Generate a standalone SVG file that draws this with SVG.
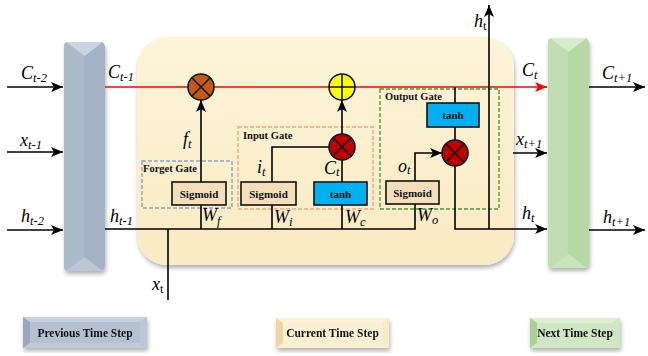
<svg xmlns="http://www.w3.org/2000/svg" width="648" height="356" viewBox="0 0 648 356">
<style>
.ln{fill:none;stroke:#000;stroke-width:1.6}
.red{fill:none;stroke:#ff0000;stroke-width:1.6}
.lbl{font-family:"Liberation Serif",serif;font-style:italic;font-size:18px;fill:#000}
.sub{font-size:12.5px}
.gt{font-family:"Liberation Serif",serif;font-weight:bold;font-size:10.5px;fill:#111}
.bx{font-family:"Liberation Serif",serif;font-weight:bold;font-size:11px;fill:#111;text-anchor:middle}
.sig{fill:#f5dfbb;stroke:#111;stroke-width:1.6}
.tanh{fill:#00b0f0;stroke:#111;stroke-width:1.6}
.op{stroke:#111;stroke-width:1.6}
.lg{font-family:"Liberation Serif",serif;font-weight:bold;font-size:11.5px;fill:#111;text-anchor:middle}
</style>
<defs>
<marker id="ah" markerUnits="userSpaceOnUse" markerWidth="12" markerHeight="10" refX="12" refY="5" orient="auto">
<path d="M0,0 L12,5 L0,10 L3,5 z" fill="#000"/>
</marker>
<marker id="ahr" markerUnits="userSpaceOnUse" markerWidth="12" markerHeight="10" refX="12" refY="5" orient="auto">
<path d="M0,0 L12,5 L0,10 L3,5 z" fill="#ff0000"/>
</marker>
<linearGradient id="cream" x1="0" y1="0" x2="0" y2="1">
<stop offset="0" stop-color="#fdf4d8"/>
<stop offset="1" stop-color="#f9ebc3"/>
</linearGradient>
<filter id="sh" x="-10%" y="-10%" width="120%" height="125%">
<feDropShadow dx="1" dy="3" stdDeviation="2" flood-color="#000" flood-opacity="0.3"/>
</filter>
</defs>

<g id="bar-prev" filter="url(#sh)">
<rect x="64" y="42" width="41" height="229" rx="5" fill="#a4b2c5"/>
<rect x="64" y="42" width="20" height="229" rx="4" fill="#adbacc"/>
<polygon points="66,42 103,42 84.5,56" fill="#cbd5e1"/>
<polygon points="66,271 103,271 84.5,257" fill="#bcc7d5"/>
</g>

<g id="cell" filter="url(#sh)">
<rect x="137" y="37" width="377" height="228" rx="30" fill="url(#cream)"/>
</g>

<g id="bar-next" filter="url(#sh)">
<rect x="548" y="38" width="41" height="230" rx="5" fill="#b5d9a6"/>
<rect x="548" y="38" width="20" height="230" rx="4" fill="#bfdeb1"/>
<polygon points="550,38 587,38 568.5,52" fill="#d6ecca"/>
<polygon points="550,268 587,268 568.5,254" fill="#cae5bd"/>
</g>

<g id="forget-gate">
<rect x="142" y="161" width="90" height="47" fill="none" stroke="#8ea4c4" stroke-width="1.4" stroke-dasharray="4,2"/>
<text class="gt" x="143" y="172">Forget Gate</text>
</g>
<g id="input-gate">
<rect x="238" y="127" width="135" height="82" fill="none" stroke="#f4a582" stroke-width="1.4" stroke-dasharray="4,2"/>
<text class="gt" x="243" y="139">Input Gate</text>
</g>
<g id="output-gate">
<rect x="380" y="89" width="119" height="120" fill="none" stroke="#4a9a3a" stroke-width="1.4" stroke-dasharray="4,2"/>
<text class="gt" x="385" y="100">Output Gate</text>
</g>

<g id="connectors">
<path class="ln" d="M7,87 H63" marker-end="url(#ah)"/>
<path class="ln" d="M7,152 H63" marker-end="url(#ah)"/>
<path class="ln" d="M7,230 H63" marker-end="url(#ah)"/>
<path class="red" d="M105,87 H547" marker-end="url(#ahr)"/>
<path class="ln" d="M105,229 H415 V204"/>
<path class="ln" d="M201,229 V205"/>
<path class="ln" d="M272,229 V205"/>
<path class="ln" d="M342,229 V205"/>
<path class="ln" d="M168,300 V229"/>
<path class="ln" d="M201,182 V100" marker-end="url(#ah)"/>
<path class="ln" d="M272,182 V147 H329"/>
<path class="ln" d="M342,182 V160"/>
<path class="ln" d="M342,134 V100" marker-end="url(#ah)"/>
<path class="ln" d="M455,87 V103"/>
<path class="ln" d="M455,127 V140"/>
<path class="ln" d="M415,181 V153 H442" marker-end="url(#ah)"/>
<path class="ln" d="M455,166 V229 H547" marker-end="url(#ah)"/>
<path class="ln" d="M489,229 V5" marker-end="url(#ah)"/>
<path class="ln" d="M513,153 H547" marker-end="url(#ah)"/>
<path class="ln" d="M589,87 H645" marker-end="url(#ah)"/>
<path class="ln" d="M589,230 H645" marker-end="url(#ah)"/>
</g>

<g id="sig-f"><rect class="sig" x="172" y="182" width="54" height="23"/><text class="bx" x="199" y="198">Sigmoid</text></g>
<g id="sig-i"><rect class="sig" x="241" y="182" width="55" height="23"/><text class="bx" x="268.5" y="198">Sigmoid</text></g>
<g id="tanh-i"><rect class="tanh" x="314" y="182" width="53" height="23"/><text class="bx" x="340.5" y="198">tanh</text></g>
<g id="sig-o"><rect class="sig" x="386" y="181" width="53" height="23"/><text class="bx" x="412.5" y="197">Sigmoid</text></g>
<g id="tanh-o"><rect class="tanh" x="427" y="103" width="52" height="24"/><text class="bx" x="453" y="119">tanh</text></g>

<g id="mul-f">
<circle class="op" cx="201" cy="87" r="13" fill="#c55a11"/>
<path class="op" d="M191.8,77.8 L210.2,96.2 M210.2,77.8 L191.8,96.2"/>
</g>
<g id="add-c">
<circle class="op" cx="342" cy="87" r="13" fill="#ffff00"/>
<path class="op" d="M329,87 H355 M342,74 V100"/>
</g>
<g id="mul-i">
<circle class="op" cx="342" cy="147" r="13" fill="#c00000"/>
<path class="op" d="M332.8,137.8 L351.2,156.2 M351.2,137.8 L332.8,156.2"/>
</g>
<g id="mul-o">
<circle class="op" cx="455" cy="153" r="13" fill="#c00000"/>
<path class="op" d="M445.8,143.8 L464.2,162.2 M464.2,143.8 L445.8,162.2"/>
</g>

<g id="labels">
<text class="lbl" x="21" y="79">C<tspan class="sub" dy="3">t-2</tspan></text>
<text class="lbl" x="20" y="146">x<tspan class="sub" dy="3">t-1</tspan></text>
<text class="lbl" x="21" y="222">h<tspan class="sub" dy="3">t-2</tspan></text>
<text class="lbl" x="108" y="78">C<tspan class="sub" dy="3">t-1</tspan></text>
<text class="lbl" x="110" y="222">h<tspan class="sub" dy="3">t-1</tspan></text>
<text class="lbl" x="183" y="145" font-size="17">f<tspan class="sub" font-size="8" dy="3">t</tspan></text>
<text class="lbl" x="257" y="173" font-size="16">i<tspan class="sub" font-size="8" dy="3">t</tspan></text>
<text class="lbl" x="324" y="174" font-size="17">C<tspan class="sub" font-size="6" dy="2">t</tspan></text>
<text class="lbl" x="398" y="172" font-size="16">o<tspan class="sub" font-size="6" dy="2">t</tspan></text>
<text class="lbl" x="202" y="221" font-size="14">W<tspan class="sub" font-size="9" dy="4">f</tspan></text>
<text class="lbl" x="274" y="223" font-size="14">W<tspan class="sub" font-size="8" dy="3">i</tspan></text>
<text class="lbl" x="345" y="223" font-size="14">W<tspan class="sub" font-size="8" dy="3">c</tspan></text>
<text class="lbl" x="417" y="221" font-size="14">W<tspan class="sub" font-size="8" dy="3">o</tspan></text>
<text class="lbl" x="152" y="290">x<tspan class="sub" font-style="normal" dy="3">t</tspan></text>
<text class="lbl" x="474" y="27">h<tspan class="sub" font-style="normal" dy="3">t</tspan></text>
<text class="lbl" x="522" y="76">C<tspan class="sub" dy="3">t</tspan></text>
<text class="lbl" x="516" y="145">x<tspan class="sub" dy="3">t+1</tspan></text>
<text class="lbl" x="522" y="219">h<tspan class="sub" dy="3">t</tspan></text>
<text class="lbl" x="602" y="79">C<tspan class="sub" dy="3">t+1</tspan></text>
<text class="lbl" x="603" y="223">h<tspan class="sub" dy="3">t+1</tspan></text>
</g>

<g id="legend-prev" filter="url(#sh)">
<rect x="23" y="317" width="124" height="31" fill="#aab7c9"/>
<polygon points="23,317 147,317 140,322 30,322" fill="#c8d2df"/>
<polygon points="23,317 30,322 30,343 23,348" fill="#9aa8bd"/>
<polygon points="147,317 140,322 140,343 147,348" fill="#bcc7d6"/>
<polygon points="23,348 30,343 140,343 147,348" fill="#c0cad8"/>
<rect x="30" y="322" width="110" height="21" fill="#b5c1d1"/>
<text class="lg" x="85" y="336.5">Previous Time Step</text>
</g>
<g id="legend-cur" filter="url(#sh)">
<rect x="276" y="318" width="113" height="30" fill="#f6e6bc"/>
<polygon points="276,318 389,318 382,323 283,323" fill="#fcf3da"/>
<polygon points="276,318 283,323 283,343 276,348" fill="#ecd7a3"/>
<polygon points="389,318 382,323 382,343 389,348" fill="#f8ebc8"/>
<polygon points="276,348 283,343 382,343 389,348" fill="#faefd0"/>
<rect x="283" y="323" width="99" height="20" fill="#fbf0d2"/>
<text class="lg" x="332.5" y="336.5">Current Time Step</text>
</g>
<g id="legend-next" filter="url(#sh)">
<rect x="530" y="318" width="90" height="30" fill="#c0dfb0"/>
<polygon points="530,318 620,318 613,323 537,323" fill="#dcefd2"/>
<polygon points="530,318 537,323 537,343 530,348" fill="#a9d196"/>
<polygon points="620,318 613,323 613,343 620,348" fill="#cfe8c3"/>
<polygon points="530,348 537,343 613,343 620,348" fill="#d2e9c6"/>
<rect x="537" y="323" width="76" height="20" fill="#cfe7c2"/>
<text class="lg" x="575" y="336.5">Next Time Step</text>
</g>
</svg>
